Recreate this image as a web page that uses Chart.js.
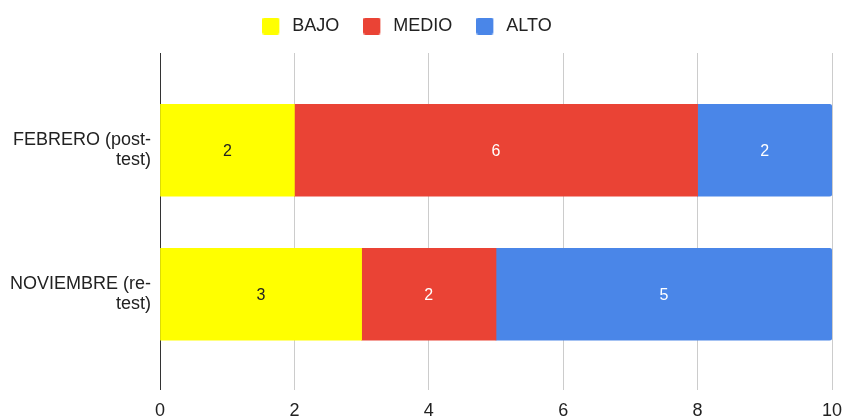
<!DOCTYPE html>
<html>
<head>
<meta charset="utf-8">
<script src="https://cdn.jsdelivr.net/npm/chart.js@4"></script>
<style>
  html, body { margin: 0; padding: 0; background: #fff; }
  #wrap { width: 845px; height: 416px; }
</style>
</head>
<body>
<div id="wrap"><canvas id="c" width="845" height="416"></canvas></div>
<script>
const CATEGORIES = [["FEBRERO (post-", "test)"], ["NOVIEMBRE (re-", "test)"]];
const SERIES_NAMES = ["BAJO", "MEDIO", "ALTO"];
const BAJO = [2, 3];
const MEDIO = [6, 2];
const ALTO = [2, 5];
const X_TICKS = [0, 2, 4, 6, 8, 10];

const COLORS = ["#ffff00", "#ea4335", "#4a86e8"];
const LABEL_COLORS = ["#222222", "#ffffff", "#ffffff"];
const FONT = "'Liberation Sans', Arial, sans-serif";

function toPoints(arr) { return arr.map((v, i) => ({ x: v, y: i })); }

// legend swatch: 17px rounded square with 4px of empty room on its right
function swatch(color) {
  const c = document.createElement('canvas');
  c.width = 21; c.height = 17;
  const g = c.getContext('2d');
  const r = 2, w = 17, h = 17;
  g.fillStyle = color;
  g.beginPath();
  g.moveTo(r, 0); g.lineTo(w - r, 0); g.quadraticCurveTo(w, 0, w, r);
  g.lineTo(w, h - r); g.quadraticCurveTo(w, h, w - r, h);
  g.lineTo(r, h); g.quadraticCurveTo(0, h, 0, h - r);
  g.lineTo(0, r); g.quadraticCurveTo(0, 0, r, 0);
  g.closePath(); g.fill();
  return c;
}
const SWATCHES = COLORS.map(swatch);

const seriesValues = [BAJO, MEDIO, ALTO];
const datasets = seriesValues.map((vals, k) => ({
  label: SERIES_NAMES[k],
  data: toPoints(vals),
  backgroundColor: COLORS[k],
  borderWidth: 0,
  barThickness: 92,
  borderRadius: k === 2 ? 3 : 0,
  borderSkipped: 'start'
}));

const legendSpacer = {
  id: 'legendSpacer',
  beforeInit(chart) {
    const orig = chart.legend.fit;
    chart.legend.fit = function () {
      orig.bind(chart.legend)();
      this.height += 8;
    };
  },
  afterLayout(chart) {
    chart.legend.left = -18;
  }
};

const barLabels = {
  id: 'barLabels',
  afterDatasetsDraw(chart) {
    const ctx = chart.ctx;
    ctx.save();
    ctx.font = "16px " + FONT;
    ctx.textAlign = 'center';
    ctx.textBaseline = 'middle';
    chart.data.datasets.forEach((ds, k) => {
      const meta = chart.getDatasetMeta(k);
      meta.data.forEach((el, i) => {
        const v = ds.data[i].x;
        if (!v) return;
        ctx.fillStyle = LABEL_COLORS[k];
        ctx.fillText(String(v), (el.x + el.base) / 2, el.y + 1);
      });
    });
    ctx.restore();
  }
};

function noPad(scale) {
  scale.paddingLeft = 0; scale.paddingRight = 0;
  scale.paddingTop = 0; scale.paddingBottom = 0;
}

new Chart(document.getElementById('c'), {
  type: 'bar',
  data: { datasets },
  options: {
    indexAxis: 'y',
    responsive: false,
    animation: false,
    layout: { padding: { top: -7, right: 13, left: 0, bottom: 0 } },
    plugins: {
      tooltip: { enabled: false },
      legend: {
        position: 'top',
        align: 'center',
        labels: {
          usePointStyle: true,
          pointStyleWidth: 21,
          boxHeight: 17,
          padding: 24,
          color: '#222222',
          font: { family: FONT, size: 18 },
          generateLabels(chart) {
            const items = Chart.defaults.plugins.legend.labels.generateLabels(chart);
            items.forEach((it, i) => { it.pointStyle = SWATCHES[it.datasetIndex != null ? it.datasetIndex : i]; });
            return items;
          }
        }
      }
    },
    scales: {
      x: {
        type: 'linear',
        stacked: true,
        min: 0,
        max: 10,
        afterBuildTicks(scale) { scale.ticks = X_TICKS.map(v => ({ value: v })); },
        afterFit(scale) { scale.height = 26; noPad(scale); },
        ticks: {
          padding: 10,
          color: '#222222',
          font: { family: FONT, size: 18 }
        },
        grid: {
          drawTicks: false,
          color: (c) => (c.tick && c.tick.value === 0) ? '#333333' : '#cccccc',
          lineWidth: 1
        },
        border: { display: false }
      },
      y: {
        type: 'linear',
        stacked: true,
        reverse: true,
        offset: false,
        min: -0.675,
        max: 1.665,
        afterBuildTicks(scale) { scale.ticks = CATEGORIES.map((_, i) => ({ value: i })); },
        afterFit(scale) { scale.width = 160; noPad(scale); },
        ticks: {
          padding: 9,
          color: '#222222',
          font: { family: FONT, size: 18, lineHeight: 1.1 },
          callback: (v) => CATEGORIES[v]
        },
        grid: { display: false, drawTicks: false, offset: false },
        border: { display: false }
      }
    }
  },
  plugins: [legendSpacer, barLabels]
});
</script>
</body>
</html>
